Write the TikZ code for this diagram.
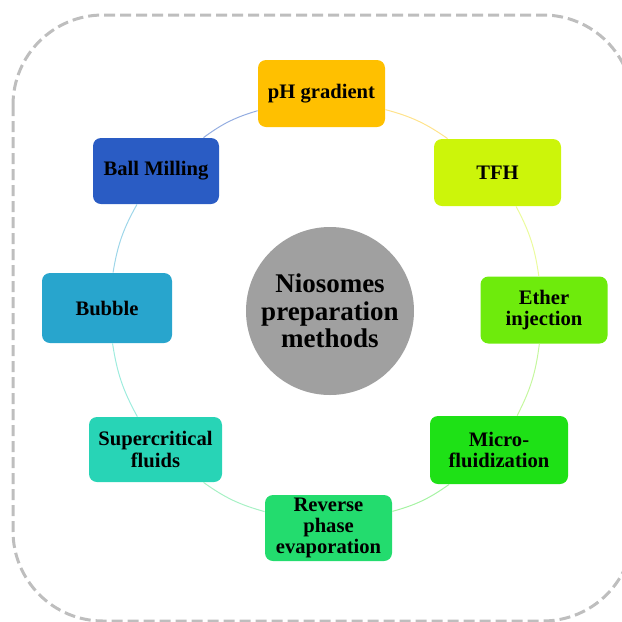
\documentclass[tikz,border=0pt]{standalone}
\usepackage{fontspec}
\setmainfont{Liberation Serif}
\usetikzlibrary{shapes.geometric}
\definecolor{phcol}{RGB}{255,192,0}
\definecolor{tfhcol}{RGB}{204,245,10}
\definecolor{ethercol}{RGB}{110,235,12}
\definecolor{microcol}{RGB}{30,225,22}
\definecolor{revcol}{RGB}{35,220,110}
\definecolor{supercol}{RGB}{40,212,182}
\definecolor{bubblecol}{RGB}{40,165,205}
\definecolor{ballcol}{RGB}{42,92,196}
\definecolor{hubcol}{RGB}{160,160,160}
\definecolor{framecol}{RGB}{190,190,190}
\tikzstyle{method} = [rectangle, rounded corners=4pt, minimum width=63.5pt, minimum height=33.5pt, inner sep=1pt, align=center, font=\bfseries\fontsize{10.3}{10.6}\selectfont]
\tikzstyle{hub} = [circle, minimum size=84pt, inner sep=0pt, align=center, fill=hubcol, font=\bfseries\fontsize{13.5}{13.7}\selectfont]
\tikzstyle{link} = [line width=0.5pt]
\tikzstyle{frame} = [line width=1.5pt, dash pattern=on 5.5pt off 2.5pt, draw=framecol, rounded corners=45pt]

\begin{document}
\begin{tikzpicture}[x=0.5pt, y=-0.5pt]
            \useasboundingbox (0,0) rectangle (622,622);
            \clip (0,0) rectangle (622,622);
            \draw [frame] (13,15) rectangle (633,621);

            \node [hub] at (330,311) (hub) {Niosomes\\preparation\\methods};
            \node [method, fill=phcol] at (321.5,93.5) (ph) {pH gradient};
            \node [method, fill=tfhcol] at (497.5,172.5) (tfh) {TFH};
            \node [method, fill=ethercol] at (544,310) (ether) {Ether\\injection};
            \node [method, fill=microcol, minimum width=69pt, minimum height=34pt] at (499,450) (micro) {Micro-\\fluidization};
            \node [method, fill=revcol, minimum height=33pt] at (328.5,528) (rev) {Reverse\\phase\\evaporation};
            \node [method, fill=supercol, minimum width=66.5pt, minimum height=32.5pt] at (155.5,449.5) (super) {Supercritical\\fluids};
            \node [method, fill=bubblecol, minimum width=65pt, minimum height=35pt] at (107,308) (bubble) {Bubble};
            \node [method, fill=ballcol, minimum width=63pt, minimum height=33pt] at (156,171) (ball) {Ball Milling};

            \draw [link, ballcol!50!white] (ball) to[bend left=10] (ph);
            \draw [link, phcol!45!white] (ph) to[bend left=10] (tfh);
            \draw [link, tfhcol!40!white] (tfh) to[bend left=10] (ether);
            \draw [link, ethercol!40!white] (ether) to[bend left=10] (micro);
            \draw [link, microcol!40!white] (micro) to[bend left=10] (rev);
            \draw [link, revcol!40!white] (rev) to[bend left=10] (super);
            \draw [link, supercol!45!white] (super) to[bend left=10] (bubble);
            \draw [link, bubblecol!45!white] (bubble) to[bend left=10] (ball);
\end{tikzpicture}
\end{document}
